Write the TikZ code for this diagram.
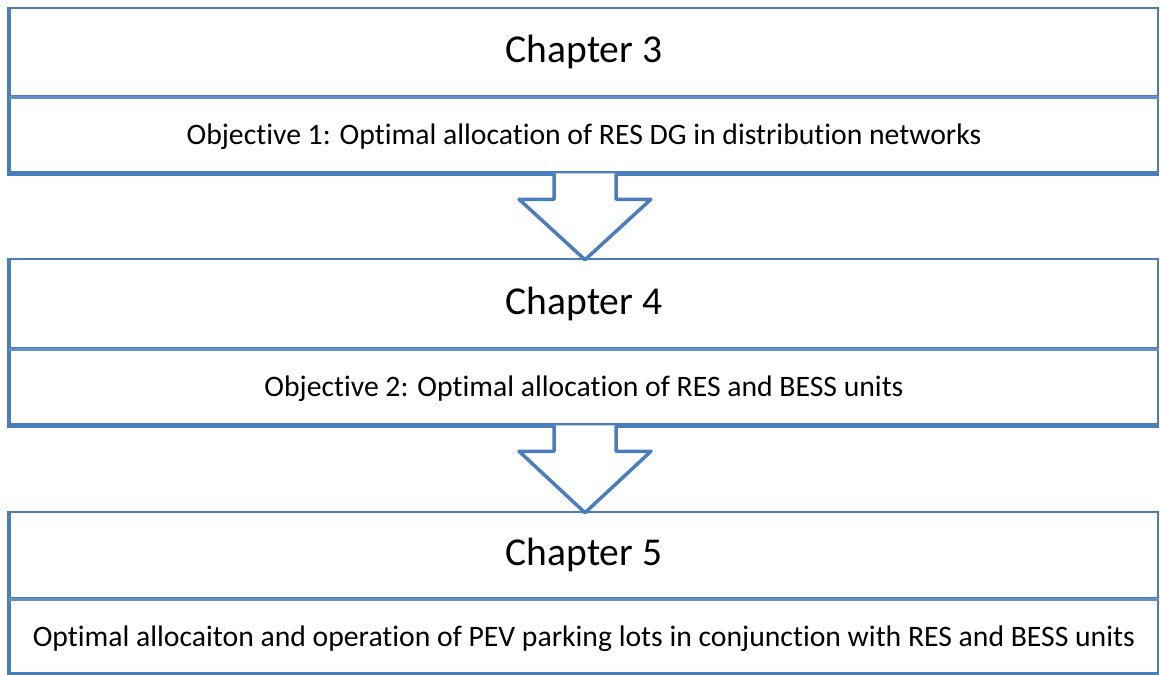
\documentclass[tikz,border=0pt]{standalone}
\usepackage{fontspec}
\setmainfont{Carlito}[RawFeature=-liga]
\usetikzlibrary{calc}
\definecolor{edgeblue}{RGB}{74,126,187}
\definecolor{splitblue}{RGB}{98,144,199}
\tikzset{
  chapbox/.style={draw=edgeblue, line width=2.5pt, minimum width=1148pt, inner sep=0pt,
                  font=\fontsize{39.5}{42}\selectfont},
  objbox/.style={draw=edgeblue, line width=2.5pt, minimum width=1148pt, inner sep=0pt,
                 text height=22pt, text depth=1pt,
                 font=\fontsize{29.7}{33}\selectfont},
  splitline/.style={draw=splitblue, line width=3.5pt},
  shadowline/.style={draw=edgeblue, line width=2.5pt},
  blockarrow/.style={draw=edgeblue, fill=white, line width=3.5pt, line join=round}
}
\begin{document}
\begin{tikzpicture}[x=1pt,y=-1pt]
\useasboundingbox (0,0) rectangle (1160,675);

% Chapter 3
\node[chapbox, minimum height=88pt] (t3) at (584,52) {Chapter 3};
\node[objbox, minimum height=76pt] (o3) at (584,134) {Objective 1: Optimal allocation of RES DG in distribution networks};
% Chapter 4
\node[chapbox, minimum height=89pt] (t4) at (584,303.5) {Chapter 4};
\node[objbox, minimum height=76pt] (o4) at (584,386) {Objective 2: Optimal allocation of RES and BESS units};
% Chapter 5
\node[chapbox, minimum height=86pt] (t5) at (584,555) {Chapter 5};
\node[objbox, minimum height=75pt] (o5) at (584,635.5) {Optimal allocaiton and operation of PEV parking lots in conjunction with RES and BESS units};

% heavier left and bottom edges of each box
\foreach \t/\o in {t3/o3, t4/o4, t5/o5}{
  \draw[shadowline] ($(\t.north west)+(-1,0)$) -- ($(\o.south west)+(-1,1)$)
                    -- ($(\o.south east)+(0,1)$);
  \draw[splitline] (\t.south west) -- (\t.south east);
}

% block arrows between the boxes
\foreach \a/\b in {o3/t4, o4/t5}{
  \draw[blockarrow] ($(\a.south)+(-30,0)$) -- ++(0,26) -- ++(-35,0)
       -- ($(\b.north)+(1,2)$)
       -- ($(\a.south)+(67,26)$) -- ++(-35,0) -- ($(\a.south)+(32,0)$);
}
\end{tikzpicture}
\end{document}
